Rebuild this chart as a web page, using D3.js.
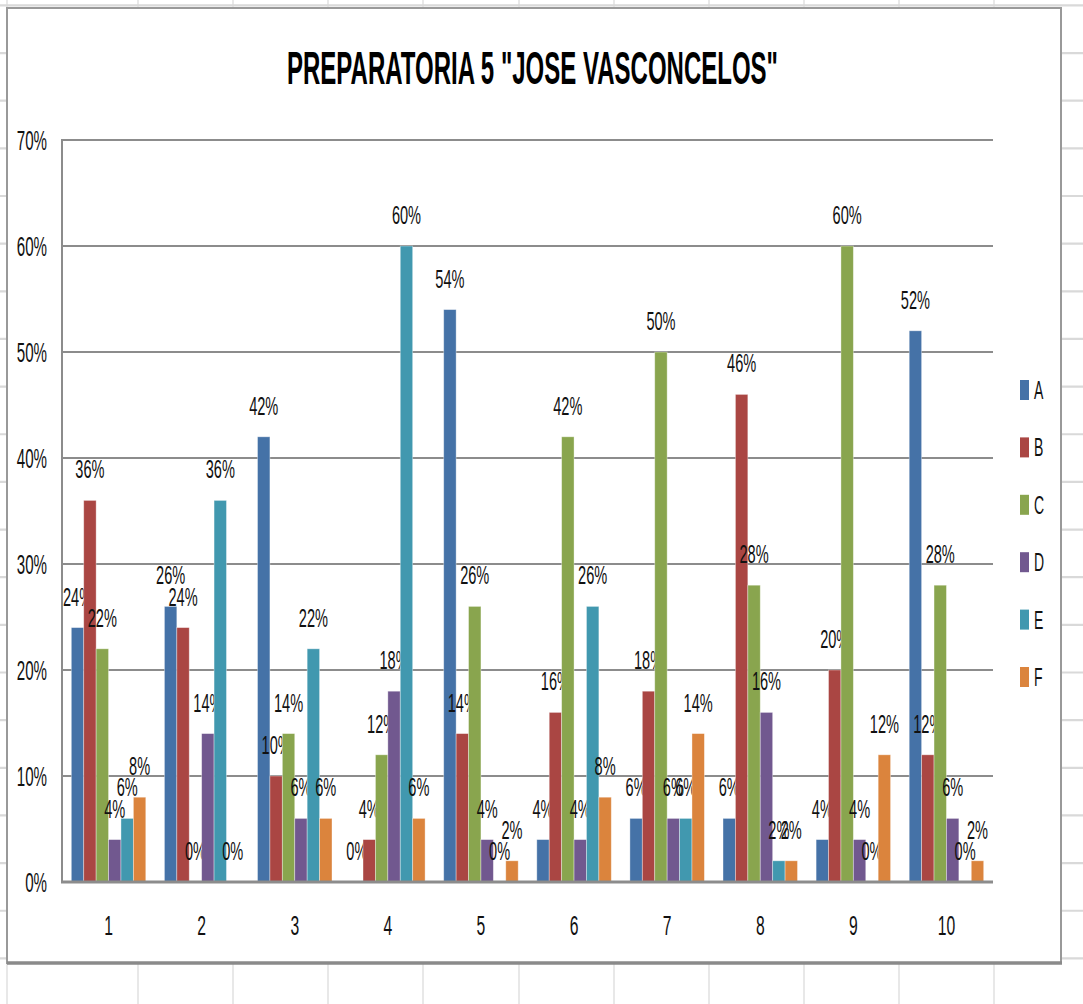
<!DOCTYPE html>
<html>
<head>
<meta charset="utf-8">
<script src="https://cdn.jsdelivr.net/npm/d3@7"></script>
<style>
  body { margin: 0; background: #fff; }
  svg { display: block; font-family: 'Liberation Sans', Arial, sans-serif; }
</style>
</head>
<body>
<div class="container"></div>
<script>
const categories = ['1', '2', '3', '4', '5', '6', '7', '8', '9', '10']
const seriesNames = ['A', 'B', 'C', 'D', 'E', 'F']
const valuesA = [24, 26, 42, 0, 54, 4, 6, 6, 4, 52]
const valuesB = [36, 24, 10, 4, 14, 16, 18, 46, 20, 12]
const valuesC = [22, 0, 14, 12, 26, 42, 50, 28, 60, 28]
const valuesD = [4, 14, 6, 18, 4, 4, 6, 16, 4, 6]
const valuesE = [6, 36, 22, 60, 0, 26, 6, 2, 0, 0]
const valuesF = [8, 0, 6, 6, 2, 8, 14, 2, 12, 2]
const yTicks = [0, 10, 20, 30, 40, 50, 60, 70]
const title = 'PREPARATORIA 5 "JOSE VASCONCELOS"'

const colors = ['#4572a7', '#aa4643', '#89a54e', '#71588f', '#4198af', '#db843d']
const allValues = [valuesA, valuesB, valuesC, valuesD, valuesE, valuesF]

const w = 1083
const h = 1004
const sx = 0.56 // condensed text

const svg = d3.select('.container')
  .append('svg')
  .attr('width', w)
  .attr('height', h)

// spreadsheet cells behind the chart
const cols = [7, 138, 233, 328, 423, 519, 614, 709, 804, 899, 994]
svg.selectAll('.col')
  .data(cols)
  .enter()
  .append('line')
  .attr('x1', d => d).attr('x2', d => d)
  .attr('y1', 0).attr('y2', h)
  .attr('stroke', '#d9d9d9')
  .attr('stroke-width', 1.2)

svg.selectAll('.row')
  .data(d3.range(22))
  .enter()
  .append('line')
  .attr('x1', 0).attr('x2', w)
  .attr('y1', d => 5.4 + d * 47.65).attr('y2', d => 5.4 + d * 47.65)
  .attr('stroke', '#d9d9d9')
  .attr('stroke-width', 2.2)

// chart box
svg.append('rect')
  .attr('x', 7).attr('y', 8)
  .attr('width', 1054).attr('height', 955)
  .attr('fill', '#fff')
  .attr('stroke', '#999')
  .attr('stroke-width', 2)
svg.append('line')
  .attr('x1', 7).attr('x2', 1062)
  .attr('y1', 963).attr('y2', 963)
  .attr('stroke', '#8a8a8a')
  .attr('stroke-width', 3.5)

const plotLeft = 62, plotRight = 993, plotTop = 140, plotBottom = 882

const xScale = d3.scaleBand()
  .domain(categories)
  .range([plotLeft, plotRight])
  .paddingInner(0.2)
  .paddingOuter(0.1)

const xSub = d3.scaleBand()
  .domain(seriesNames)
  .range([0, xScale.bandwidth()])

const yScale = d3.scaleLinear()
  .domain([0, 70])
  .range([plotBottom, plotTop])

// gridlines
svg.append('g')
  .selectAll('line')
  .data(yTicks.filter(d => d > 0))
  .enter()
  .append('line')
  .attr('x1', plotLeft).attr('x2', plotRight)
  .attr('y1', d => yScale(d)).attr('y2', d => yScale(d))
  .attr('stroke', '#8c8c8c')
  .attr('stroke-width', 2)

svg.append('line')
  .attr('x1', plotLeft).attr('x2', plotLeft)
  .attr('y1', plotTop - 1).attr('y2', plotBottom)
  .attr('stroke', '#8c8c8c')
  .attr('stroke-width', 2)

const yAxis = d3.axisLeft(yScale)
  .tickValues(yTicks)
  .tickFormat(d => d + '%')
  .tickSize(0)

const yG = svg.append('g')
  .attr('transform', `translate(${plotLeft}, 0)`)
  .call(yAxis)
yG.select('.domain').remove()
yG.selectAll('text')
  .attr('font-family', 'Liberation Sans, Arial, sans-serif')
  .attr('font-size', 27)
  .attr('fill', '#111')
  .attr('x', -15 / sx)
  .attr('dy', '0.36em')
  .attr('transform', `scale(${sx},1)`)

// bars
const groups = svg.append('g')
  .selectAll('g')
  .data(categories)
  .enter()
  .append('g')
  .attr('transform', d => `translate(${xScale(d)}, 0)`)

const cells = groups.selectAll('g')
  .data((c, i) => seriesNames.map((s, k) => ({ s, k, v: allValues[k][i] })))
  .enter()
  .append('g')

cells.append('rect')
  .attr('x', d => xSub(d.s))
  .attr('width', xSub.bandwidth())
  .attr('y', d => yScale(d.v))
  .attr('height', d => plotBottom - yScale(d.v))
  .attr('fill', d => colors[d.k])
  .attr('stroke', 'rgba(255,255,255,0.45)')
  .attr('stroke-width', 0.8)

cells.append('text')
  .text(d => d.v + '%')
  .attr('text-anchor', 'middle')
  .attr('font-size', 26)
  .attr('fill', '#111')
  .attr('transform', d => `translate(${xSub(d.s) + xSub.bandwidth() / 2}, ${yScale(d.v) - 22}) scale(${sx},1)`)

// x axis
const xAxis = d3.axisBottom(xScale).tickSize(0).tickPadding(33)
const xG = svg.append('g')
  .attr('transform', `translate(0, ${plotBottom})`)
  .call(xAxis)
xG.select('.domain')
  .attr('stroke', '#8c8c8c')
  .attr('stroke-width', 3)
  .attr('d', `M${plotLeft - 1},0H${plotRight}`)
xG.selectAll('text')
  .attr('font-family', 'Liberation Sans, Arial, sans-serif')
  .attr('font-size', 28)
  .attr('fill', '#111')
  .attr('transform', `scale(${sx},1)`)

// legend
const legend = svg.append('g')
  .selectAll('g')
  .data(seriesNames)
  .enter()
  .append('g')
  .attr('transform', (d, i) => `translate(1020, ${390 + i * 57.4})`)

legend.append('rect')
  .attr('x', 0).attr('y', -10)
  .attr('width', 9).attr('height', 20)
  .attr('fill', (d, i) => colors[i])

legend.append('text')
  .text(d => d)
  .attr('font-size', 25)
  .attr('fill', '#111')
  .attr('transform', `translate(14, 9) scale(${sx},1)`)

// title
svg.append('text')
  .text(title)
  .attr('x', 532.5)
  .attr('y', 84)
  .attr('text-anchor', 'middle')
  .attr('font-weight', 'bold')
  .attr('font-size', 46)
  .attr('fill', '#000')
  .attr('textLength', 491)
  .attr('lengthAdjust', 'spacingAndGlyphs')
</script>
</body>
</html>
